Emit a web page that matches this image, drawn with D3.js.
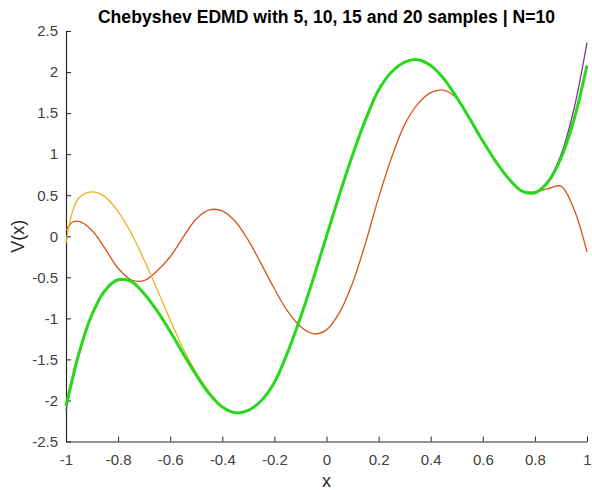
<!DOCTYPE html>
<html>
<head>
<meta charset="utf-8">
<script src="https://cdn.jsdelivr.net/npm/d3@7"></script>
<style>
  body { margin: 0; background: #fff; }
  svg { display: block; font-family: "Liberation Sans", Arial, sans-serif; }
  .axis path, .axis line { stroke: #262626; }
  .axis text { fill: #404040; font-size: 15px; }
</style>
</head>
<body>
<div class="chartView"></div>
<script>
// sample positions along x (shared by all series)
var xs = [-1, -0.975, -0.95, -0.9, -0.85, -0.8, -0.75, -0.7, -0.65, -0.6, -0.55,
  -0.5, -0.45, -0.4, -0.35, -0.3, -0.25, -0.2, -0.15, -0.1, -0.05,
  0, 0.05, 0.1, 0.15, 0.2, 0.25, 0.3, 0.35, 0.4, 0.45,
  0.5, 0.55, 0.6, 0.65, 0.7, 0.75, 0.8, 0.85, 0.9, 0.95, 1];

// 5 samples
var orangeVals = [0.07, 0.17, 0.18, 0.07, -0.15, -0.39, -0.53, -0.54, -0.42, -0.25, -0.01,
  0.21, 0.32, 0.31, 0.18, -0.05, -0.34, -0.64, -0.91, -1.10, -1.19,
  -1.14, -0.93, -0.57, -0.08, 0.47, 0.96, 1.36, 1.61, 1.75, 1.78,
  1.68, 1.43, 1.16, 0.91, 0.70, 0.55, 0.54, 0.58, 0.61, 0.33, -0.19];

// 10 samples
var yellowVals = [-0.08, 0.30, 0.47, 0.54, 0.48, 0.30, 0.04, -0.29, -0.65, -1.02, -1.37,
  -1.66, -1.90, -2.07, -2.15, -2.12, -2.00, -1.78, -1.42, -0.99, -0.51,
  0.00, 0.51, 0.99, 1.42, 1.78, 2.00, 2.12, 2.15, 2.08, 1.92,
  1.69, 1.43, 1.16, 0.91, 0.70, 0.55, 0.53, 0.66, 0.95, 1.42, 2.08];

// 15 samples
var purpleVals = [-2.12, -1.76, -1.45, -0.95, -0.66, -0.53, -0.55, -0.70, -0.91, -1.16, -1.43,
  -1.69, -1.92, -2.08, -2.15, -2.12, -2.00, -1.78, -1.42, -0.99, -0.51,
  0.00, 0.51, 0.99, 1.42, 1.78, 2.00, 2.12, 2.15, 2.08, 1.92,
  1.69, 1.43, 1.16, 0.91, 0.70, 0.55, 0.53, 0.67, 0.99, 1.55, 2.36];

// 20 samples
var greenVals = [-2.07, -1.73, -1.42, -0.95, -0.66, -0.53, -0.55, -0.70, -0.91, -1.16, -1.43,
  -1.69, -1.92, -2.08, -2.15, -2.12, -2.00, -1.78, -1.42, -0.99, -0.51,
  0.00, 0.51, 0.99, 1.42, 1.78, 2.00, 2.12, 2.15, 2.08, 1.92,
  1.69, 1.43, 1.16, 0.91, 0.70, 0.55, 0.53, 0.66, 0.95, 1.42, 2.08];

var xTicks = [-1, -0.8, -0.6, -0.4, -0.2, 0, 0.2, 0.4, 0.6, 0.8, 1];
var yTicks = [-2.5, -2, -1.5, -1, -0.5, 0, 0.5, 1, 1.5, 2, 2.5];

var series = [
  { name: '5', vals: orangeVals, color: '#D95319', width: 1.3 },
  { name: '10', vals: yellowVals, color: '#EDB120', width: 1.3 },
  { name: '15', vals: purpleVals, color: '#7E2F8E', width: 1.3 },
  { name: '20', vals: greenVals, color: '#27d81c', width: 3 }
];

var width = 592, height = 490;
var plotLeft = 66, plotRight = 587, plotTop = 31, plotBottom = 441.5;

var svg = d3.select('.chartView').append('svg')
  .attr('width', width)
  .attr('height', height);

var x = d3.scaleLinear().domain([-1, 1]).range([plotLeft, plotRight]);
var y = d3.scaleLinear().domain([-2.5, 2.5]).range([plotBottom, plotTop]);

//plain hyphen minus like matlab
var fmt = function(d) { return String(d); };

// axes, ticks pointing inwards
svg.append('g')
  .attr('class', 'axis')
  .attr('transform', 'translate(0,' + plotBottom + ')')
  .call(d3.axisBottom(x).tickValues(xTicks).tickSizeInner(-5).tickSizeOuter(0).tickPadding(13).tickFormat(fmt));

svg.append('g')
  .attr('class', 'axis')
  .attr('transform', 'translate(' + plotLeft + ',0)')
  .call(d3.axisLeft(y).tickValues(yTicks).tickSizeInner(-5).tickSizeOuter(0).tickPadding(8).tickFormat(fmt));

svg.selectAll('.axis .domain').attr('stroke-width', 1.2);

//the curves
var line = d3.line()
  .x(function(d, i) { return x(xs[i]); })
  .y(function(d) { return y(d); })
  .curve(d3.curveCatmullRom.alpha(0.5));

svg.selectAll('path.curve')
  .data(series)
  .enter()
  .append('path')
  .attr('class', 'curve')
  .attr('fill', 'none')
  .attr('stroke', function(d) { return d.color; })
  .attr('stroke-width', function(d) { return d.width; })
  .attr('stroke-linejoin', 'round')
  .attr('d', function(d) { return line(d.vals); });

// title and labels
svg.append('text')
  .attr('x', (plotLeft + plotRight) / 2)
  .attr('y', 22.5)
  .attr('text-anchor', 'middle')
  .attr('font-weight', 'bold')
  .attr('font-size', '17.6px')
  .attr('fill', '#000')
  .text('Chebyshev EDMD with 5, 10, 15 and 20 samples | N=10');

svg.append('text')
  .attr('x', (plotLeft + plotRight) / 2)
  .attr('y', 487)
  .attr('text-anchor', 'middle')
  .attr('font-size', '18px')
  .attr('fill', '#262626')
  .text('x');

svg.append('text')
  .attr('transform', 'translate(24,' + ((plotTop + plotBottom) / 2) + ') rotate(-90)')
  .attr('text-anchor', 'middle')
  .attr('font-size', '18px')
  .attr('fill', '#262626')
  .text('V(x)');
</script>
</body>
</html>
